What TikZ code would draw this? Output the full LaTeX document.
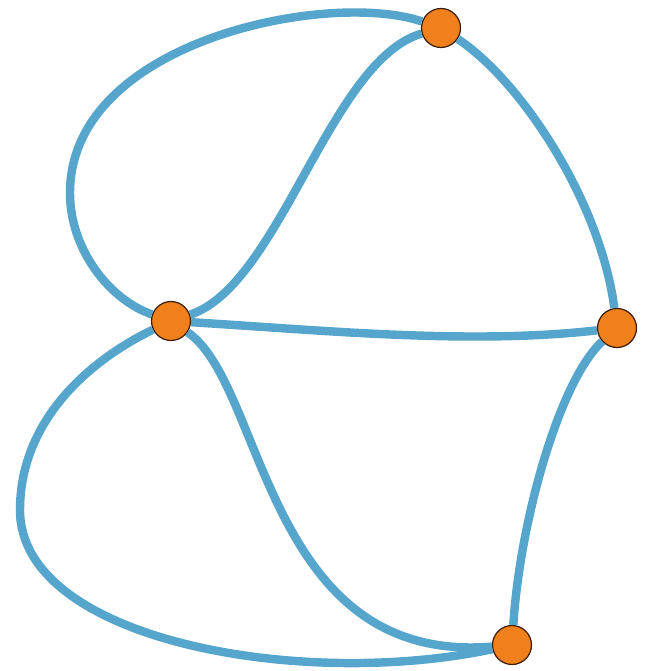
\documentclass[tikz,border=0pt]{standalone}
\usepackage{tikz}
\usepackage{xcolor}
\definecolor{edgeblue}{RGB}{86,165,204}
\definecolor{vorange}{RGB}{240,128,28}
\definecolor{vrim}{RGB}{60,30,10}

\begin{document}
\begin{tikzpicture}[
  x=0.02cm, y=-0.02cm,
  vertex/.style={circle,draw=vrim,fill=vorange,line width=0.7pt,minimum size=0.78cm,inner sep=0pt},
  edge/.style={draw=edgeblue,line width=4.8pt}
]
  \useasboundingbox (0,0) rectangle (648,671);
  \node[vertex] (v0) at (441,28) {};
  \node[vertex] (v1) at (171,321) {};
  \node[vertex] (v2) at (617,328) {};
  \node[vertex] (v3) at (512,645) {};
  \draw[edge] (v1) .. controls (110,300) and (70,250) .. (70,193)
                   .. controls (70,40) and (330,-10) .. (v0);
  \draw[edge] (v1) .. controls (280,285) and (330,60) .. (v0);
  \draw[edge] (v0) .. controls (520,80) and (600,200) .. (v2);
  \draw[edge] (v1) .. controls (320,330) and (470,345) .. (v2);
  \draw[edge] (v1) .. controls (90,360) and (20,420) .. (20,510)
                   .. controls (20,640) and (300,690) .. (v3);
  \draw[edge] (v1) .. controls (265,385) and (265,665) .. (v3);
  \draw[edge] (v2) .. controls (560,380) and (520,520) .. (v3);
\end{tikzpicture}
\end{document}
